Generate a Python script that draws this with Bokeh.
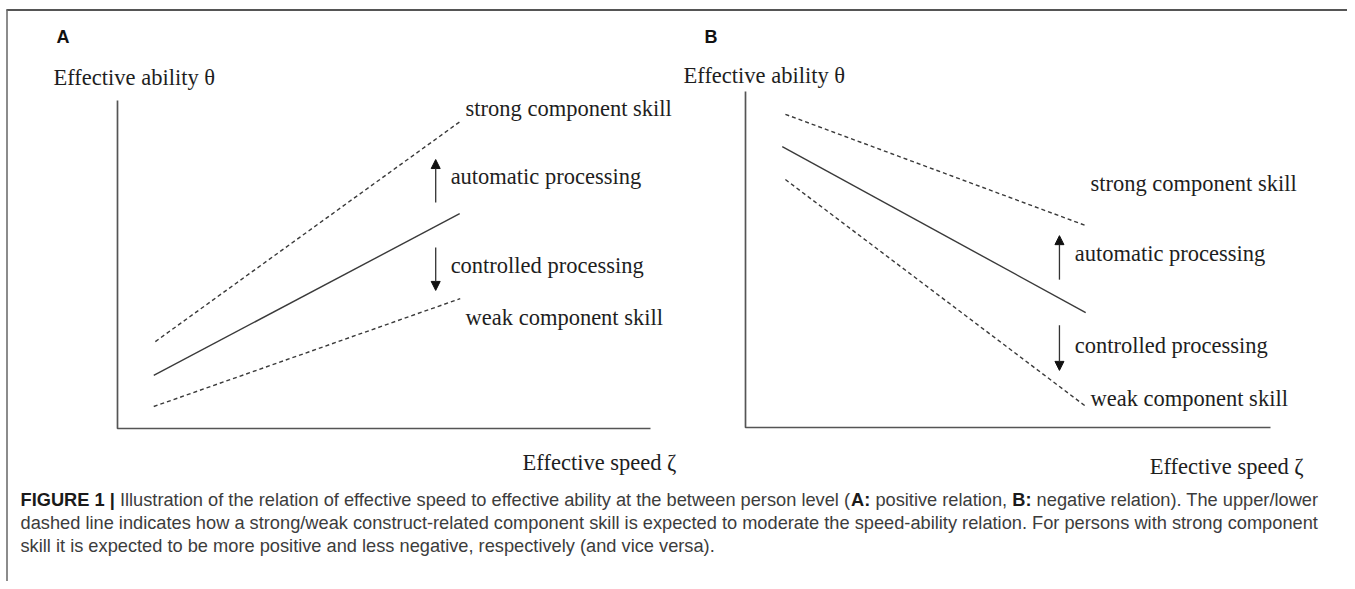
from bokeh.plotting import figure
from bokeh.models import Range1d, Arrow, NormalHead
from bokeh.core.properties import value
from bokeh.embed import file_html
from bokeh.resources import INLINE

# ---------------- data (schematic units: both axes run 0..10) ----------------
y_axis_label = "Effective ability θ"
x_axis_label = "Effective speed ζ"
curve_labels = ["strong component skill", "automatic processing",
                "controlled processing", "weak component skill"]

# Panel A: positive relation
a_strong_speed = [0.71, 6.43]
a_strong_ability = [2.65, 9.36]
a_mid_speed = [0.68, 6.42]
a_mid_ability = [1.62, 6.55]
a_weak_speed = [0.68, 6.43]
a_weak_ability = [0.67, 3.96]

# Panel B: negative relation
b_strong_speed = [0.76, 6.48]
b_strong_ability = [9.32, 6.01]
b_mid_speed = [0.70, 6.48]
b_mid_ability = [8.36, 3.42]
b_weak_speed = [0.76, 6.48]
b_weak_ability = [7.38, 0.63]

# arrows: [speed, ability start, ability end]
a_up_arrow = [5.97, 6.89, 8.20]
a_down_arrow = [5.97, 5.52, 4.21]
b_up_arrow = [5.98, 4.40, 5.71]
b_down_arrow = [5.98, 3.04, 1.70]

caption_lines = [
    [("FIGURE 1 |", True),
     (" Illustration of the relation of effective speed to effective ability at the between person level (", False),
     ("A:", True), (" positive relation, ", False), ("B:", True),
     (" negative relation). The upper/lower", False)],
    [("dashed line indicates how a strong/weak construct-related component skill is expected to moderate the speed-ability relation. For persons with strong component", False)],
    [("skill it is expected to be more positive and less negative, respectively (and vice versa).", False)],
]

# ---------------- layout ----------------
W, H = 1347, 581
X0, Y0 = 0, 0
p = figure(width=W, height=H, output_backend="svg", toolbar_location=None,
           x_range=Range1d(X0, X0 + W), y_range=Range1d(Y0 + H, Y0),
           x_axis_type=None, y_axis_type=None, min_border=0,
           outline_line_color=None, background_fill_color="white",
           border_fill_color="white")
p.grid.visible = False

# panel geometry in page pixels: axis corner and axis lengths
GEO = {"A": dict(ox=117, oy=428, xl=533, yl=328),
       "B": dict(ox=745, oy=427, xl=525, yl=336)}
for k, g in GEO.items():
    upx, upy = g["xl"] / 10.0, g["yl"] / 10.0
    p.extra_x_ranges["x" + k] = Range1d((X0 - g["ox"]) / upx, (X0 + W - g["ox"]) / upx)
    p.extra_y_ranges["y" + k] = Range1d((g["oy"] - (Y0 + H)) / upy, (g["oy"] - Y0) / upy)

# outer frame (top and left rules)
p.line(x=[6, 1349], y=[9.5, 9.5], line_color="#555555", line_width=2)
p.line(x=[6.5, 6.5], y=[9, Y0 + H], line_color="#666666", line_width=1.5)

SERIF = value("Liberation Serif")
SANS = value("Liberation Sans")

panel_data = {
    "A": [(a_strong_speed, a_strong_ability, True), (a_mid_speed, a_mid_ability, False),
          (a_weak_speed, a_weak_ability, True)],
    "B": [(b_strong_speed, b_strong_ability, True), (b_mid_speed, b_mid_ability, False),
          (b_weak_speed, b_weak_ability, True)],
}
arrows = {"A": (a_up_arrow, a_down_arrow), "B": (b_up_arrow, b_down_arrow)}

# label positions (schematic units)
label_pos = {
    "A": dict(ylab=(-1.20, 10.70), xlab=(7.60, -1.04),
              curves=[(6.53, 9.76), (6.25, 7.68), (6.25, 4.97), (6.53, 3.38)]),
    "B": dict(ylab=(-1.18, 10.48), xlab=(7.70, -1.16),
              curves=[(6.57, 7.26), (6.27, 5.18), (6.27, 2.44), (6.57, 0.86)]),
}
panel_letter_pos = {"A": (56, 36), "B": (704, 36)}

for k in ["A", "B"]:
    xr, yr = "x" + k, "y" + k
    # axes
    p.line(x=[0, 0, 10], y=[10, 0, 0], x_range_name=xr, y_range_name=yr,
           line_color="#555555", line_width=1.7)
    for sx, sy, dashed in panel_data[k]:
        p.line(x=sx, y=sy, x_range_name=xr, y_range_name=yr,
               line_color="#3a3a3a", line_width=1.4,
               line_dash="4 3" if dashed else "solid")
    for a in arrows[k]:
        p.add_layout(Arrow(end=NormalHead(size=9, fill_color="#111111", line_color="#111111"),
                           x_start=a[0], y_start=a[1], x_end=a[0], y_end=a[2],
                           x_range_name=xr, y_range_name=yr,
                           line_color="#333333", line_width=1.3))
    lp = label_pos[k]
    p.text(x=[lp["ylab"][0], lp["xlab"][0]] + [c[0] for c in lp["curves"]],
           y=[lp["ylab"][1], lp["xlab"][1]] + [c[1] for c in lp["curves"]],
           text=[y_axis_label, x_axis_label] + curve_labels,
           x_range_name=xr, y_range_name=yr,
           text_font=SERIF, text_font_size="22.5px", text_color="#1e1e1e",
           text_align="left", text_baseline="middle")
    lx, ly = panel_letter_pos[k]
    p.text(x=[lx], y=[ly], text=[k], text_font=SANS, text_font_size="18px",
           text_font_style="bold", text_color="#111111",
           text_align="left", text_baseline="middle")

# ---------------- caption (Arial-metric widths to place bold runs) ----------------
REG = {' ': 278, '|': 260, '(': 333, ')': 333, '.': 278, ',': 278, '/': 278, '-': 333,
       ':': 278, '1': 556, 'a': 556, 'b': 556, 'c': 500, 'd': 556, 'e': 556, 'f': 278,
       'g': 556, 'h': 556, 'i': 222, 'j': 222, 'k': 500, 'l': 222, 'm': 833, 'n': 556,
       'o': 556, 'p': 556, 'q': 556, 'r': 333, 's': 500, 't': 278, 'u': 556, 'v': 500,
       'w': 722, 'x': 500, 'y': 500, 'z': 500, 'A': 667, 'B': 667, 'F': 611, 'I': 278,
       'T': 611, 'G': 778, 'U': 722, 'R': 722, 'E': 667}
BOLD = {' ': 278, '|': 280, ':': 333, '1': 556, 'A': 722, 'B': 722, 'F': 611, 'I': 278,
        'G': 778, 'U': 722, 'R': 722, 'E': 667}


def em(s, bold):
    t = BOLD if bold else REG
    return sum(t.get(c, 556) for c in s) / 1000.0


cap_x0, cap_x1 = 20, 1318
fs = (cap_x1 - cap_x0) / sum(em(s, b) for s, b in caption_lines[0])
cap_y = [499, 522, 545]
for line, yy in zip(caption_lines, cap_y):
    x = cap_x0
    for seg, bold in line:
        lead = len(seg) - len(seg.lstrip(" "))
        txt = seg.strip(" ")
        p.text(x=[x + em(" " * lead, bold) * fs], y=[yy], text=[txt],
               text_font=SANS, text_font_size=f"{fs:.2f}px",
               text_font_style="bold" if bold else "normal",
               text_color="#1a1a1a" if bold else "#3c3c3c",
               text_align="left", text_baseline="middle")
        x += em(seg, bold) * fs

open("out.html", "w").write(file_html(p, INLINE))
